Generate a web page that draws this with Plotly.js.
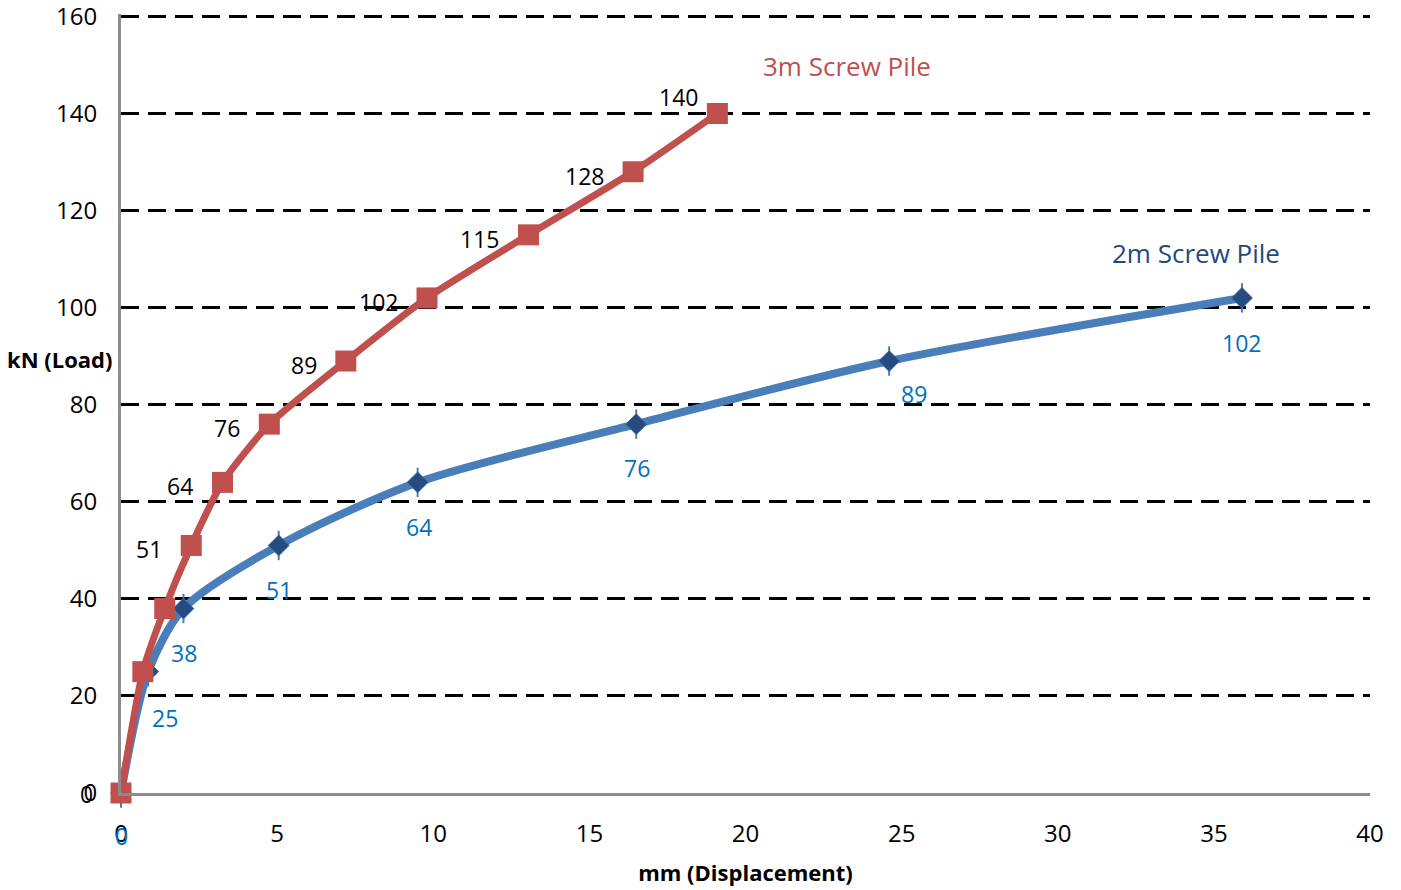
<!DOCTYPE html>
<html>
<head>
<meta charset="utf-8">
<script src="https://cdn.plot.ly/plotly-3.0.1.min.js"></script>
<style>
  html, body { margin: 0; padding: 0; background: #ffffff; }
  #chart { width: 1401px; height: 890px; }
</style>
</head>
<body>
<div id="chart"></div>
<script>
// Load test results: displacement (mm) against applied load (kN)
const pile3mDisp = [0, 0.7, 1.4, 2.25, 3.25, 4.75, 7.2, 9.8, 13.05, 16.4, 19.1];
const pile3mLoad = [0, 25, 38, 51, 64, 76, 89, 102, 115, 128, 140];
const pile3mLabelShown = [true, false, false, true, true, true, true, true, true, true, true];

const pile2mDisp = [0, 0.87, 2.0, 5.05, 9.5, 16.5, 24.6, 35.9];
const pile2mLoad = [0, 25, 38, 51, 64, 76, 89, 102];

const xTicks = [0, 5, 10, 15, 20, 25, 30, 35, 40];
const yTicks = [0, 20, 40, 60, 80, 100, 120, 140, 160];

const RED = '#C0504D';
const BLUE = '#4A7EBB';
const BLUE_MARK = '#254B80';
const LABEL_BLUE = '#0070C0';
const FONT = 'Open Sans, Noto Sans, sans-serif';

const traces = [
  {
    x: pile2mDisp, y: pile2mLoad, mode: 'lines', name: '2m Screw Pile',
    line: { color: BLUE, width: 8, shape: 'spline', smoothing: 0.8 },
    cliponaxis: false, hoverinfo: 'skip'
  },
  {
    // thin vertical spikes behind each diamond
    x: pile2mDisp, y: pile2mLoad, mode: 'markers', name: '2m Screw Pile',
    marker: { symbol: 'line-ns', size: 21, line: { width: 2, color: BLUE } },
    cliponaxis: false, hoverinfo: 'skip'
  },
  {
    x: pile2mDisp, y: pile2mLoad, mode: 'markers', name: '2m Screw Pile',
    marker: { symbol: 'diamond', size: 16, color: BLUE_MARK, line: { width: 1, color: '#3A68A0' } },
    cliponaxis: false, hoverinfo: 'x+y'
  },
  {
    x: pile3mDisp, y: pile3mLoad, mode: 'lines+markers', name: '3m Screw Pile',
    line: { color: RED, width: 7, shape: 'spline', smoothing: 0.6 },
    marker: { symbol: 'square', size: 21, color: RED, line: { width: 0 } },
    cliponaxis: false, hoverinfo: 'x+y'
  }
];

const annotations = [];

// value labels for the 3m pile: left of each point, the last one above-left
pile3mLoad.forEach((v, i) => {
  if (!pile3mLabelShown[i]) return;
  const last = i === pile3mLoad.length - 1;
  annotations.push({
    x: pile3mDisp[i], y: v, xref: 'x', yref: 'y', text: String(v), showarrow: false,
    xanchor: 'right', yanchor: 'middle',
    xshift: last ? -17 : (i === 0 ? -26 : -27), yshift: last ? 17 : (i === 0 ? -1 : -4),
    font: { family: FONT, size: 23, color: '#000000' }
  });
});

// value labels for the 2m pile: underneath each point
const blueShiftX = [0, 17, 1, 0, 1, 1, 25, 0];
const blueShiftY = [-43, -46, -44, -45, -45, -44, -33, -45];
pile2mLoad.forEach((v, i) => {
  annotations.push({
    x: pile2mDisp[i], y: v, xref: 'x', yref: 'y', text: String(v), showarrow: false,
    xanchor: 'center', yanchor: 'middle',
    xshift: blueShiftX[i], yshift: blueShiftY[i],
    font: { family: FONT, size: 23, color: LABEL_BLUE }
  });
});

// series names placed beside the curves
annotations.push({
  x: 23.25, y: 149.8, xref: 'x', yref: 'y', text: '3m Screw Pile', showarrow: false,
  xanchor: 'center', yanchor: 'middle',
  font: { family: FONT, size: 26, color: RED }
});
annotations.push({
  x: 34.43, y: 111.3, xref: 'x', yref: 'y', text: '2m Screw Pile', showarrow: false,
  xanchor: 'center', yanchor: 'middle',
  font: { family: FONT, size: 26, color: '#1F497D' }
});

// vertical axis caption, written horizontally left of the axis
annotations.push({
  x: -0.049, y: 434 / 779, xref: 'x domain', yref: 'y domain',
  text: '<b>kN (Load)</b>', showarrow: false,
  xanchor: 'center', yanchor: 'middle',
  font: { family: FONT, size: 22, color: '#000000' }
});

const layout = {
  width: 1401, height: 890,
  margin: { l: 121, r: 31, t: 14, b: 97 },
  paper_bgcolor: '#ffffff', plot_bgcolor: '#ffffff',
  showlegend: false,
  xaxis: {
    range: [0, 40], tickvals: xTicks, ticktext: xTicks.map(String),
    showgrid: false, zeroline: false,
    showline: true, linecolor: '#8C8C8C', linewidth: 3,
    ticks: 'outside', ticklen: 17, tickcolor: 'rgba(0,0,0,0)',
    tickfont: { family: FONT, size: 24, color: '#000000' },
    title: { text: '<b>mm (Displacement)</b>', standoff: 18,
             font: { family: FONT, size: 22, color: '#000000' } }
  },
  yaxis: {
    range: [0, 160.5], tickvals: yTicks, ticktext: yTicks.map(String),
    showgrid: true, gridcolor: '#000000', gridwidth: 3, griddash: '18px,9px',
    zeroline: false, ticklabeloverflow: 'allow',
    showline: true, linecolor: '#8C8C8C', linewidth: 3,
    ticks: 'outside', ticklen: 16, tickcolor: 'rgba(0,0,0,0)',
    tickfont: { family: FONT, size: 24, color: '#000000' }
  },
  annotations: annotations
};

Plotly.newPlot('chart', traces, layout, { displayModeBar: false, staticPlot: true });
</script>
</body>
</html>
